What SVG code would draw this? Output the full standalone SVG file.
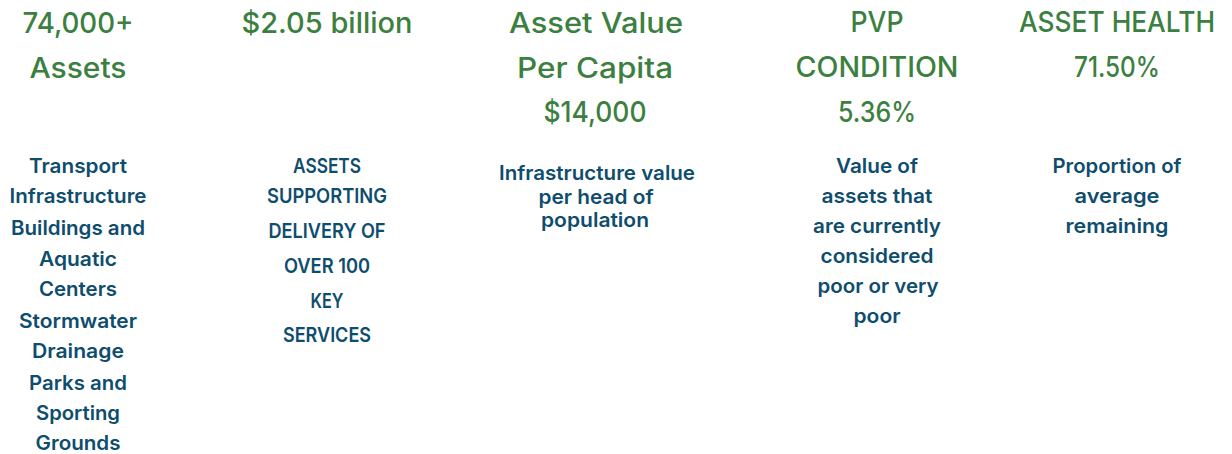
<svg xmlns="http://www.w3.org/2000/svg" width="1232" height="454" viewBox="0 0 1232 454">
<style>
.h{font-family:Inter,"Open Sans","Liberation Sans",sans-serif;font-size:28px;font-weight:500;fill:#3b8040;text-anchor:middle}
.b{font-family:Inter,"Open Sans","Liberation Sans",sans-serif;font-size:20px;font-weight:600;fill:#0e4d6e;text-anchor:middle}
</style>
<rect width="1232" height="454" fill="#ffffff"/>
<g id="assets">
<text class="h" x="78" y="33" textLength="111" lengthAdjust="spacingAndGlyphs">74,000+</text>
<text class="h" x="78" y="78" textLength="97" lengthAdjust="spacingAndGlyphs">Assets</text>
<text class="b" x="78" y="173" textLength="98" lengthAdjust="spacingAndGlyphs">Transport</text>
<text class="b" x="78" y="203" textLength="137" lengthAdjust="spacingAndGlyphs">Infrastructure</text>
<text class="b" x="78" y="235" textLength="134" lengthAdjust="spacingAndGlyphs">Buildings and</text>
<text class="b" x="78" y="266" textLength="78" lengthAdjust="spacingAndGlyphs">Aquatic</text>
<text class="b" x="78" y="296" textLength="78" lengthAdjust="spacingAndGlyphs">Centers</text>
<text class="b" x="78" y="328" textLength="118" lengthAdjust="spacingAndGlyphs">Stormwater</text>
<text class="b" x="78" y="358" textLength="92" lengthAdjust="spacingAndGlyphs">Drainage</text>
<text class="b" x="78" y="390" textLength="98" lengthAdjust="spacingAndGlyphs">Parks and</text>
<text class="b" x="78" y="420" textLength="84" lengthAdjust="spacingAndGlyphs">Sporting</text>
<text class="b" x="78" y="450" textLength="85" lengthAdjust="spacingAndGlyphs">Grounds</text>
</g>
<g id="value">
<text class="h" x="327" y="33" textLength="171" lengthAdjust="spacingAndGlyphs">$2.05 billion</text>
<text class="b" x="327" y="173" textLength="68" lengthAdjust="spacingAndGlyphs">ASSETS</text>
<text class="b" x="327" y="203" textLength="120" lengthAdjust="spacingAndGlyphs">SUPPORTING</text>
<text class="b" x="327" y="238" textLength="117" lengthAdjust="spacingAndGlyphs">DELIVERY OF</text>
<text class="b" x="327" y="273" textLength="86" lengthAdjust="spacingAndGlyphs">OVER 100</text>
<text class="b" x="327" y="308" textLength="33" lengthAdjust="spacingAndGlyphs">KEY</text>
<text class="b" x="327" y="342" textLength="88" lengthAdjust="spacingAndGlyphs">SERVICES</text>
</g>
<g id="per-capita">
<text class="h" x="596" y="33" textLength="174" lengthAdjust="spacingAndGlyphs">Asset Value</text>
<text class="h" x="595" y="78" textLength="156" lengthAdjust="spacingAndGlyphs">Per Capita</text>
<text class="h" x="595" y="122" textLength="103" lengthAdjust="spacingAndGlyphs">$14,000</text>
<text class="b" x="597" y="180" textLength="196" lengthAdjust="spacingAndGlyphs">Infrastructure value</text>
<text class="b" x="596" y="204" textLength="115" lengthAdjust="spacingAndGlyphs">per head of</text>
<text class="b" x="595" y="227" textLength="108" lengthAdjust="spacingAndGlyphs">population</text>
</g>
<g id="pvp">
<text class="h" x="877" y="32" textLength="53" lengthAdjust="spacingAndGlyphs">PVP</text>
<text class="h" x="877" y="77" textLength="163" lengthAdjust="spacingAndGlyphs">CONDITION</text>
<text class="h" x="877" y="122" textLength="78" lengthAdjust="spacingAndGlyphs">5.36%</text>
<text class="b" x="877" y="173" textLength="82" lengthAdjust="spacingAndGlyphs">Value of</text>
<text class="b" x="877" y="203" textLength="111" lengthAdjust="spacingAndGlyphs">assets that</text>
<text class="b" x="877" y="233" textLength="128" lengthAdjust="spacingAndGlyphs">are currently</text>
<text class="b" x="877" y="263" textLength="113" lengthAdjust="spacingAndGlyphs">considered</text>
<text class="b" x="878" y="293" textLength="121" lengthAdjust="spacingAndGlyphs">poor or very</text>
<text class="b" x="877" y="323" textLength="47" lengthAdjust="spacingAndGlyphs">poor</text>
</g>
<g id="health">
<text class="h" x="1117" y="32" textLength="196" lengthAdjust="spacingAndGlyphs">ASSET HEALTH</text>
<text class="h" x="1117" y="77" textLength="86" lengthAdjust="spacingAndGlyphs">71.50%</text>
<text class="b" x="1117" y="173" textLength="129" lengthAdjust="spacingAndGlyphs">Proportion of</text>
<text class="b" x="1117" y="203" textLength="85" lengthAdjust="spacingAndGlyphs">average</text>
<text class="b" x="1117" y="233" textLength="103" lengthAdjust="spacingAndGlyphs">remaining</text>
</g>
</svg>
